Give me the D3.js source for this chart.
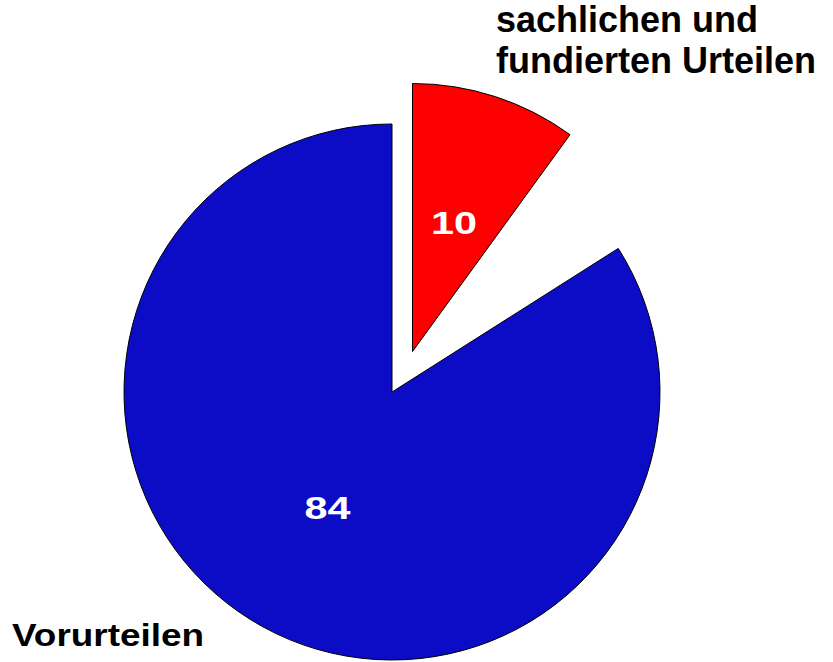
<!DOCTYPE html>
<html lang="de">
<head>
<meta charset="UTF-8">
<title>Urteile</title>
<script src="https://d3js.org/d3.v7.min.js"></script>
<style>
  body { margin: 0; background: #fff; }
  text { font-family: "Liberation Sans", Arial, sans-serif; font-weight: bold; }
</style>
</head>
<body>
<svg id="chart"></svg>
<script>
    // data (the 6 slice is left out of the drawing)
    var categories = ["sachlichen und fundierten Urteilen", "(ohne)", "Vorurteilen"];
    var values = [10, 6, 84];
    var colors = ["#fe0000", "none", "#0c0cc6"];
    var showSlice = [true, false, true];

    var width = 833, height = 662;
    var radius = 268;
    var center = {x: 392, y: 392};
    // how far each slice is pulled out of the pie
    var explode = [{dx: 20.5, dy: -40.5}, {dx: 0, dy: 0}, {dx: 0, dy: 0}];

    var svg = d3.select("#chart")
        .attr("width", width)
        .attr("height", height);

    var pie = d3.pie().sort(null).value(function (d) { return d; });
    var arc = d3.arc().innerRadius(0).outerRadius(radius);

    // keep the slice index, then drop the hidden one
    var slices = pie(values).filter(function (d) { return showSlice[d.index]; });

    var g = svg.selectAll(".slice")
        .data(slices)
        .enter()
        .append("g")
        .attr("class", "slice")
        .attr("transform", function (d) {
            var e = explode[d.index];
            return "translate(" + (center.x + e.dx) + "," + (center.y + e.dy) + ")";
        });

    g.append("path")
        .attr("d", arc)
        .attr("fill", function (d) { return colors[d.index]; })
        .attr("stroke", "#000")
        .attr("stroke-width", 1)
        .attr("stroke-linejoin", "miter");

    // value labels at the middle of each slice, a bit wide like in the original
    g.append("text")
        .attr("x", function (d) { return arc.centroid(d)[0]; })
        .attr("y", function (d) { return arc.centroid(d)[1] + 10; })
        .attr("text-anchor", "middle")
        .attr("font-size", 32)
        .attr("fill", "#fff")
        .attr("textLength", 46)
        .attr("lengthAdjust", "spacingAndGlyphs")
        .text(function (d) { return d.data; });

    // category labels
    var topLabel = svg.append("text")
        .attr("x", 496)
        .attr("y", 32)
        .attr("font-size", 36)
        .attr("fill", "#000");
    topLabel.append("tspan").attr("x", 496).text("sachlichen und");
    topLabel.append("tspan").attr("x", 496).attr("y", 73).text("fundierten Urteilen");

    svg.append("text")
        .attr("x", 12)
        .attr("y", 646)
        .attr("font-size", 31)
        .attr("fill", "#000")
        .attr("textLength", 192)
        .attr("lengthAdjust", "spacingAndGlyphs")
        .text(categories[2]);
</script>
</body>
</html>
